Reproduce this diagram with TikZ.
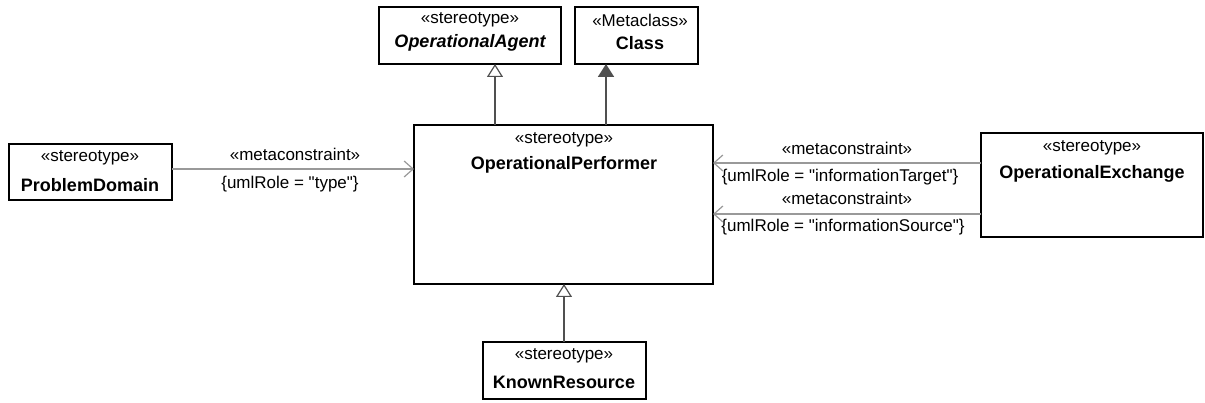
\documentclass[tikz,border=0pt]{standalone}
\usepackage{fontspec}
\setmainfont{Liberation Sans}
\usetikzlibrary{arrows.meta}
\definecolor{genc}{HTML}{505050}
\definecolor{conc}{HTML}{999999}
\tikzset{
  box/.style={draw=black, line width=1.5pt, fill=white, inner sep=0pt},
  txt/.style={inner sep=0pt, font=\fontsize{17}{20}\selectfont},
  btxt/.style={inner sep=0pt, font=\fontsize{18}{20}\selectfont\bfseries},
  gen/.style={draw=genc, line width=1.8pt, -{Triangle[open, length=13pt, width=16pt, line width=1.2pt]}},
  genf/.style={draw=genc, line width=1.8pt, -{Triangle[length=13pt, width=16pt]}},
  con/.style={draw=conc, line width=1.5pt, -{Straight Barb[length=9pt, width=16pt, line width=1.2pt]}},
}
\newcommand{\qq}{\textquotedbl}
\begin{document}
\begin{tikzpicture}[x=1pt, y=-1pt]
\useasboundingbox (0,0) rectangle (1205,403);
% boxes
\draw[box] (379,7) rectangle (561,64);
\coordinate (agb) at (495,64);
\draw[box] (575,7) rectangle (698,64);
\coordinate (clb) at (606,64);
\draw[box] (414,125) rectangle (713,284);
\coordinate (opt1) at (495,125);
\coordinate (opt2) at (606,125);
\coordinate (opb) at (564,284);
\coordinate (opl) at (414,169);
\coordinate (opr1) at (713,163);
\coordinate (opr2) at (713,214);
\draw[box] (9,144) rectangle (172,200);
\coordinate (pdr) at (172,169);
\draw[box] (981,133) rectangle (1203,237);
\coordinate (oel1) at (981,163);
\coordinate (oel2) at (981,214);
\draw[box] (483,342) rectangle (646,399);
\coordinate (krt) at (564,342);
% texts
\node[txt] (t1) at (470,20) {«stereotype»};
\node[btxt] (t2) at (470,43) {\itshape OperationalAgent};
\node[txt] (t3) at (640,20) {«Metaclass»};
\node[btxt] (t4) at (640,43) {Class};
\node[txt] (t5) at (564,140) {«stereotype»};
\node[btxt] (t6) at (564,165) {OperationalPerformer};
\node[txt] (t7) at (90,158) {«stereotype»};
\node[btxt] (t8) at (90,185) {ProblemDomain};
\node[txt] (t9) at (1092,148) {«stereotype»};
\node[btxt] (t10) at (1092,174) {OperationalExchange};
\node[txt] (t11) at (564,356) {«stereotype»};
\node[btxt] (t12) at (564,382) {KnownResource};
% connectors
\draw[gen] (opt1) -- (agb);
\draw[genf] (opt2) -- (clb);
\draw[gen] (krt) -- (opb);
\draw[con] (pdr) -- (opl);
\draw[con] (oel1) -- (opr1);
\draw[con] (oel2) -- (opr2);
% connector labels
\node[txt] (l1) at (295,154) {«metaconstraint»};
\node[txt] (l2) at (290,184) {\{umlRole = \qq type\qq\}};
\node[txt] (l3) at (847,148) {«metaconstraint»};
\node[txt] (l4) at (840,177) {\{umlRole = \qq informationTarget\qq\}};
\node[txt] (l5) at (847,198) {«metaconstraint»};
\node[txt] (l6) at (843,227) {\{umlRole = \qq informationSource\qq\}};
\end{tikzpicture}
\end{document}
